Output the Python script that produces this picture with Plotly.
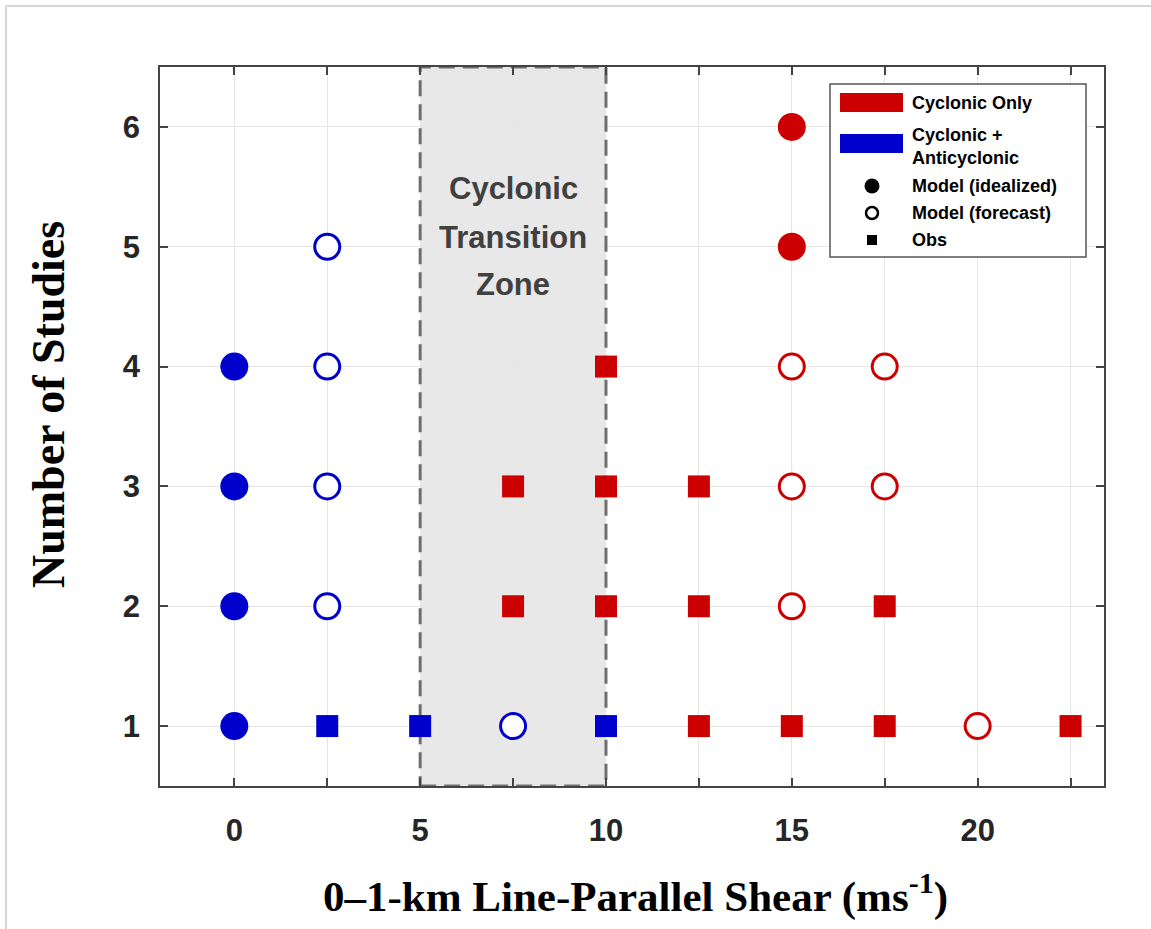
import plotly.graph_objects as go

# ---------------- data ----------------
# Cyclonic + Anticyclonic (blue)
blue_ideal_x = [0, 0, 0, 0]
blue_ideal_y = [1, 2, 3, 4]
blue_fcst_x = [2.5, 2.5, 2.5, 2.5, 7.5]
blue_fcst_y = [2, 3, 4, 5, 1]
blue_obs_x = [2.5, 5, 10]
blue_obs_y = [1, 1, 1]

# Cyclonic only (red)
red_ideal_x = [15, 15]
red_ideal_y = [5, 6]
red_fcst_x = [15, 15, 15, 17.5, 17.5, 20]
red_fcst_y = [2, 3, 4, 3, 4, 1]
red_obs_x = [7.5, 7.5, 10, 10, 10, 12.5, 12.5, 12.5, 15, 17.5, 17.5, 22.5]
red_obs_y = [2, 3, 2, 3, 4, 1, 2, 3, 1, 1, 2, 1]

zone_x = [5, 10]
zone_label = ["Cyclonic", "Transition", "Zone"]
x_ticks = [0, 5, 10, 15, 20]
y_ticks = [1, 2, 3, 4, 5, 6]
legend_labels = ["Cyclonic Only", "Cyclonic +<br>Anticyclonic",
                 "Model (idealized)", "Model (forecast)", "Obs"]

RED = "#CC0000"
BLUE = "#0000CC"

W, H = 1151, 929
L, R, T, B = 160, 47, 67, 143
PW, PH = W - L - R, H - T - B


def px(x):
    return (x - L) / PW


def py(y):
    return (H - B - y) / PH


fig = go.Figure()

def add(xs, ys, color, symbol, size, open_=False):
    fig.add_trace(go.Scatter(
        x=xs, y=ys, mode="markers", showlegend=False, hoverinfo="skip",
        marker=dict(symbol=symbol, size=size,
                    color="white" if open_ else color,
                    line=dict(color=color, width=3 if open_ else 0))))

add(blue_ideal_x, blue_ideal_y, BLUE, "circle", 28)
add(blue_fcst_x, blue_fcst_y, BLUE, "circle", 25, open_=True)
add(blue_obs_x, blue_obs_y, BLUE, "square", 22)
add(red_ideal_x, red_ideal_y, RED, "circle", 28)
add(red_fcst_x, red_fcst_y, RED, "circle", 25, open_=True)
add(red_obs_x, red_obs_y, RED, "square", 22)

shapes = []
# transition zone
shapes.append(dict(type="rect", xref="x", yref="y", x0=zone_x[0], x1=zone_x[1],
                   y0=0.5, y1=6.5, fillcolor="#e8e8e8", line=dict(width=0),
                   layer="below"))
shapes.append(dict(type="rect", xref="x", yref="y", x0=zone_x[0], x1=zone_x[1],
                   y0=0.5, y1=6.5, fillcolor="rgba(0,0,0,0)",
                   line=dict(color="#6e6e6e", width=3, dash="16px,8px"),
                   layer="between"))

# page border (top + left)
shapes.append(dict(type="line", xref="paper", yref="paper",
                   x0=px(6), x1=px(1151), y0=py(6), y1=py(6),
                   line=dict(color="#c8c8c8", width=1.5)))
shapes.append(dict(type="line", xref="paper", yref="paper",
                   x0=px(6), x1=px(6), y0=py(6), y1=py(929),
                   line=dict(color="#c8c8c8", width=1.5)))

# legend
shapes.append(dict(type="rect", xref="paper", yref="paper",
                   x0=px(830), x1=px(1086), y0=py(84), y1=py(257),
                   fillcolor="white", line=dict(color="#555555", width=1.5)))
shapes.append(dict(type="rect", xref="paper", yref="paper",
                   x0=px(840), x1=px(903), y0=py(93), y1=py(112),
                   fillcolor=RED, line=dict(width=0)))
shapes.append(dict(type="rect", xref="paper", yref="paper",
                   x0=px(840), x1=px(903), y0=py(134), y1=py(153),
                   fillcolor=BLUE, line=dict(width=0)))
cx = 872
shapes.append(dict(type="circle", xref="paper", yref="paper",
                   x0=px(cx - 7.5), x1=px(cx + 7.5), y0=py(186 - 7.5), y1=py(186 + 7.5),
                   fillcolor="black", line=dict(width=0)))
shapes.append(dict(type="circle", xref="paper", yref="paper",
                   x0=px(cx - 6), x1=px(cx + 6), y0=py(213 - 6), y1=py(213 + 6),
                   fillcolor="white", line=dict(color="black", width=2.5)))
shapes.append(dict(type="rect", xref="paper", yref="paper",
                   x0=px(cx - 5), x1=px(cx + 5), y0=py(240 - 5), y1=py(240 + 5),
                   fillcolor="black", line=dict(width=0)))

annotations = []
leg_y = [103, 147, 186, 213, 240]
for lab, yy in zip(legend_labels, leg_y):
    annotations.append(dict(x=px(910), y=py(yy), xref="paper", yref="paper",
                            text=lab, showarrow=False, xanchor="left", yanchor="middle",
                            align="left",
                            font=dict(family="Liberation Sans, Arial", size=18,
                                      color="black", weight="bold")))

for lab, yy in zip(zone_label, [188, 237, 284]):
    annotations.append(dict(x=7.5, y=py(yy), xref="x", yref="paper", text=lab,
                            showarrow=False, xanchor="center", yanchor="middle",
                            font=dict(family="Liberation Sans, Arial", size=31,
                                      color="#404040", weight="bold")))

# axis titles
annotations.append(dict(x=px(635), y=py(893), xref="paper", yref="paper",
                        text="0–1-km Line-Parallel Shear (ms<sup>-1</sup>)",
                        showarrow=False, xanchor="center", yanchor="middle",
                        font=dict(family="Liberation Serif, Times New Roman", size=43,
                                  color="black", weight="bold")))
annotations.append(dict(x=px(48), y=py(405), xref="paper", yref="paper",
                        text="Number of Studies", textangle=-90,
                        showarrow=False, xanchor="center", yanchor="middle",
                        font=dict(family="Liberation Serif, Times New Roman", size=46,
                                  color="black", weight="bold")))

tickfont = dict(family="Liberation Sans, Arial", size=31, color="#262626", weight="bold")
fig.update_layout(
    width=W, height=H,
    margin=dict(l=L, r=R, t=T, b=B, pad=0),
    paper_bgcolor="white", plot_bgcolor="white",
    shapes=shapes, annotations=annotations,
    xaxis=dict(range=[-2, 23.4], tickvals=x_ticks, ticks="inside", ticklen=8,
               tickcolor="#444444", tickwidth=1.5,
               showline=True, linecolor="#444444", linewidth=1.5, mirror="ticks",
               showgrid=True, gridcolor="#e6e6e6", gridwidth=1,
               minor=dict(dtick=2.5, tick0=0, ticks="inside", ticklen=8,
                          tickcolor="#444444", showgrid=True, gridcolor="#e6e6e6"),
               zeroline=False, tickfont=tickfont, ticklabelstandoff=16),
    yaxis=dict(range=[0.5, 6.5], tickvals=y_ticks, ticks="inside", ticklen=8,
               tickcolor="#444444", tickwidth=1.5,
               showline=True, linecolor="#444444", linewidth=1.5, mirror="ticks",
               showgrid=True, gridcolor="#e6e6e6", gridwidth=1,
               zeroline=False, tickfont=tickfont, ticklabelstandoff=12),
)

fig.write_html("out.html")
